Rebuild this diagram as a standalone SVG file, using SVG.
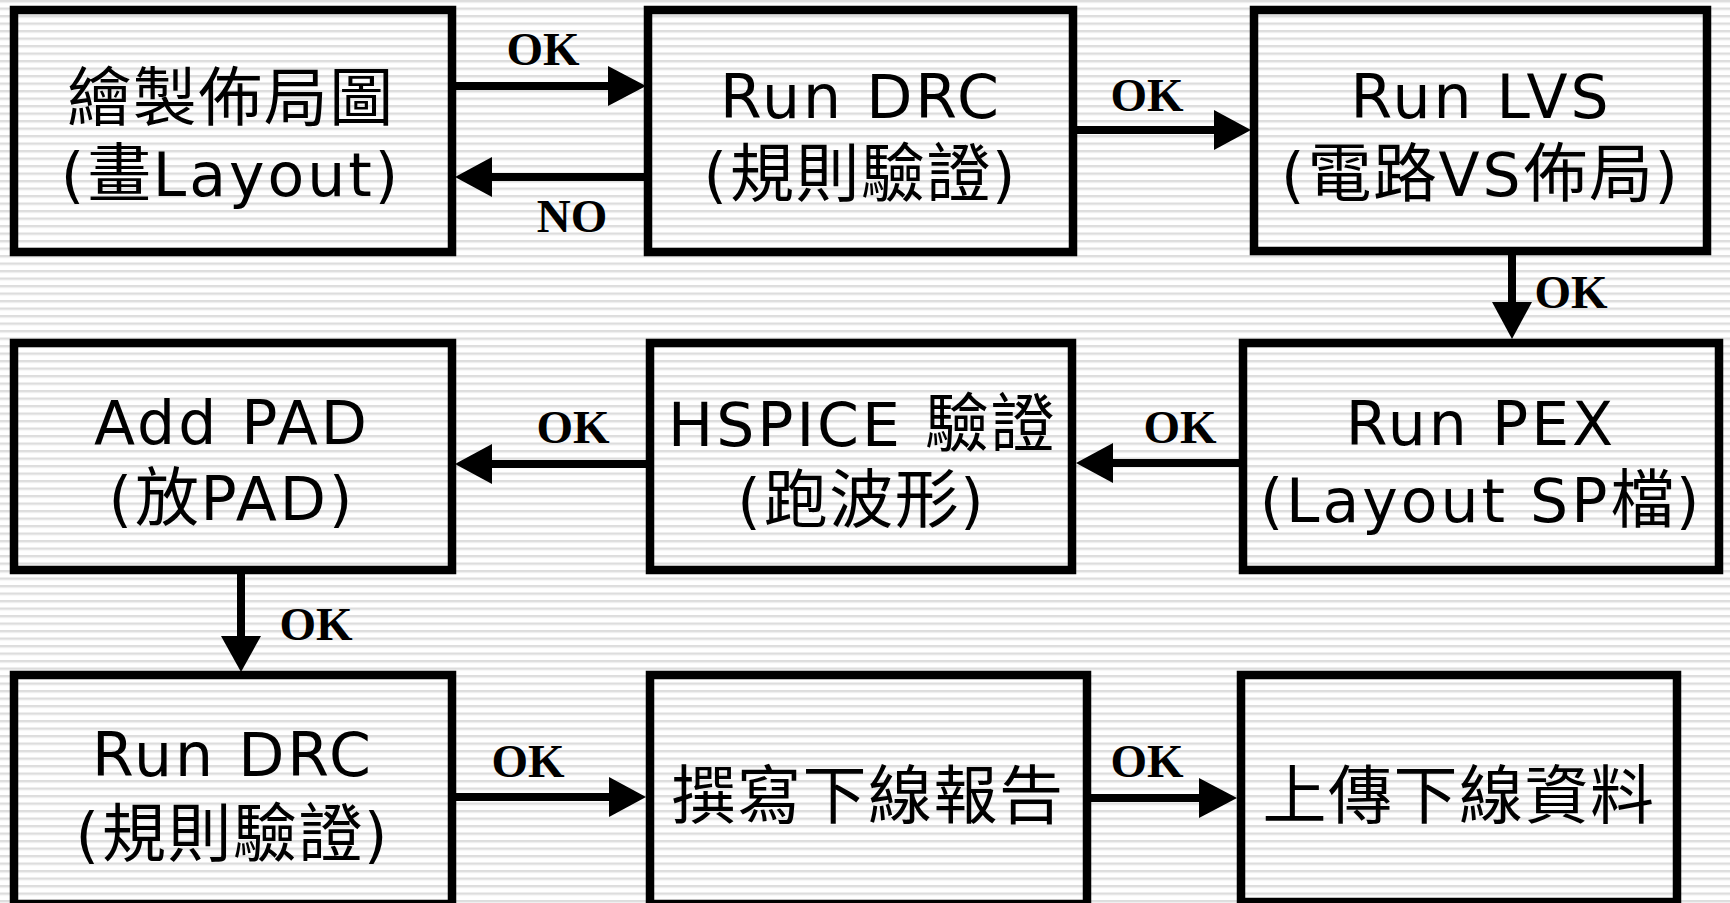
<svg xmlns="http://www.w3.org/2000/svg" width="1730" height="903" viewBox="0 0 1730 903">
<defs>
<pattern id="stripes" patternUnits="userSpaceOnUse" width="20" height="7.5">
<rect x="0" y="0" width="20" height="7.5" fill="#ffffff"/>
<rect x="0" y="0" width="20" height="2" fill="#dddddd"/>
<rect x="0" y="2" width="20" height="1" fill="#ececec"/>
</pattern>
<style>
.box{fill:none;stroke:#000;stroke-width:8.5}
.t{font-family:"DejaVu Sans","Noto Sans CJK TC",sans-serif;font-size:60px;letter-spacing:3px;fill:#000;text-anchor:middle}
.c{font-family:"Noto Sans CJK TC",sans-serif;font-size:64px;letter-spacing:1.5px}
.lbl{font-family:"Liberation Serif","Times New Roman",serif;font-weight:bold;font-size:47px;fill:#000;text-anchor:middle}
.ln{stroke:#000;stroke-width:8;fill:none}
.hd{fill:#000;stroke:none}
</style>
</defs>
<rect x="0" y="0" width="1730" height="903" fill="url(#stripes)"/>

<g id="n1"><rect class="box" x="14" y="10" width="438" height="242"/>
<text class="t" x="231" y="120"><tspan class="c">繪製佈局圖</tspan></text><text class="t" x="231" y="196">(<tspan class="c">畫</tspan>Layout)</text></g>
<g id="n2"><rect class="box" x="648" y="10" width="425" height="242"/>
<text class="t" x="861" y="118">Run DRC</text><text class="t" x="861" y="196">(<tspan class="c">規則驗證</tspan>)</text></g>
<g id="n3"><rect class="box" x="1254" y="10" width="453" height="241"/>
<text class="t" x="1481" y="118">Run LVS</text><text class="t" x="1481" y="196">(<tspan class="c">電路</tspan>VS<tspan class="c">佈局</tspan>)</text></g>
<g id="n4"><rect class="box" x="14" y="343" width="438" height="227"/>
<text class="t" x="232" y="444">Add PAD</text><text class="t" x="232" y="520">(<tspan class="c">放</tspan>PAD)</text></g>
<g id="n5"><rect class="box" x="650" y="343" width="422" height="227"/>
<text class="t" x="862" y="446">HSPICE <tspan class="c">驗證</tspan></text><text class="t" x="862" y="522">(<tspan class="c">跑波形</tspan>)</text></g>
<g id="n6"><rect class="box" x="1243" y="343" width="476" height="227"/>
<text class="t" x="1481" y="445">Run PEX</text><text class="t" x="1481" y="522">(Layout SP<tspan class="c">檔</tspan>)</text></g>
<g id="n7"><rect class="box" x="14" y="675" width="438" height="229"/>
<text class="t" x="233" y="776">Run DRC</text><text class="t" x="233" y="856">(<tspan class="c">規則驗證</tspan>)</text></g>
<g id="n8"><rect class="box" x="650" y="675" width="437" height="229"/>
<text class="t" x="868" y="818"><tspan class="c">撰寫下線報告</tspan></text></g>
<g id="n9"><rect class="box" x="1241" y="675" width="436" height="227"/>
<text class="t" x="1459" y="818"><tspan class="c">上傳下線資料</tspan></text></g>

<g id="connectors">
<line class="ln" x1="456" y1="86" x2="610" y2="86"/><polygon class="hd" points="608,66 646,86 608,106"/>
<line class="ln" x1="644" y1="177" x2="490" y2="177"/><polygon class="hd" points="492,157 455,177 492,197"/>
<line class="ln" x1="1077" y1="130" x2="1216" y2="130"/><polygon class="hd" points="1214,110 1251,130 1214,150"/>
<line class="ln" x1="1512" y1="255" x2="1512" y2="304"/><polygon class="hd" points="1492,302 1512,339 1532,302"/>
<line class="ln" x1="1239" y1="463" x2="1111" y2="463"/><polygon class="hd" points="1113,443 1076,463 1113,483"/>
<line class="ln" x1="646" y1="464" x2="490" y2="464"/><polygon class="hd" points="492,444 455,464 492,484"/>
<line class="ln" x1="241" y1="574" x2="241" y2="638"/><polygon class="hd" points="221,636 241,672 261,636"/>
<line class="ln" x1="456" y1="797" x2="611" y2="797"/><polygon class="hd" points="609,777 646,797 609,817"/>
<line class="ln" x1="1091" y1="798" x2="1201" y2="798"/><polygon class="hd" points="1199,778 1237,798 1199,818"/>
<text class="lbl" x="543" y="65">OK</text>
<text class="lbl" x="572" y="232">NO</text>
<text class="lbl" x="1147" y="111">OK</text>
<text class="lbl" x="1571" y="308">OK</text>
<text class="lbl" x="1180" y="443">OK</text>
<text class="lbl" x="573" y="443">OK</text>
<text class="lbl" x="316" y="640">OK</text>
<text class="lbl" x="528" y="777">OK</text>
<text class="lbl" x="1147" y="777">OK</text>
</g>
</svg>
